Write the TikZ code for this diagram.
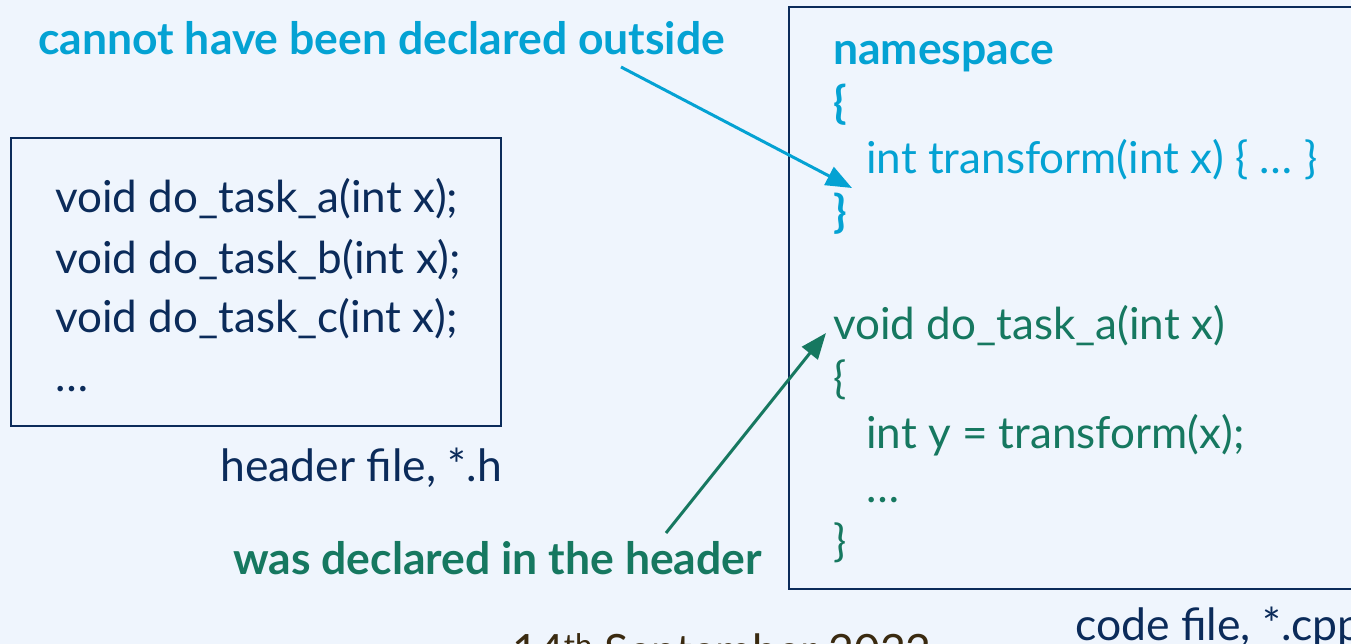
\documentclass[tikz,border=0pt]{standalone}
\usepackage{fontspec}
\setmainfont{Lato}
\usetikzlibrary{arrows.meta}
\definecolor{bgc}{HTML}{EFF5FD}
\definecolor{navy}{HTML}{0B2B5A}
\definecolor{cyanc}{HTML}{04A2D3}
\definecolor{greenc}{HTML}{167860}
\definecolor{brownc}{HTML}{3A2A10}
\tikzset{
  codeline/.style={anchor=base west, inner sep=0pt, font=\fontsize{44}{50}\selectfont},
  labeltext/.style={anchor=base west, inner sep=0pt, font=\fontsize{44.5}{50}\selectfont},
  boldlabel/.style={anchor=base west, inner sep=0pt, font=\fontsize{44.5}{50}\selectfont\bfseries},
  filebox/.style={draw=navy, line width=2.5pt},
  pointer/.style={line width=3pt, -{Triangle[length=26pt,width=20pt]}},
}
\begin{document}
\begin{tikzpicture}[x=1pt,y=-1pt]
\useasboundingbox (0,0) rectangle (1351,644);
\clip (0,0) rectangle (1351,644);
\fill[bgc] (0,0) rectangle (1351,644);
% boxes
\draw[filebox] (11,138) rectangle (501,426);
\draw[filebox] (789,7) rectangle (1400,589);
% header file text
\node[codeline, text=navy] (ha) at (55,213) {void do\_task\_a(int x);};
\node[codeline, text=navy] (hb) at (55,273) {void do\_task\_b(int x);};
\node[codeline, text=navy] (hc) at (55,332) {void do\_task\_c(int x);};
\node[codeline, text=navy] (hd) at (55,391) {…};
\node[labeltext, text=navy] (hl) at (220,481) {header file, *.h};
% code file text
\node[boldlabel, text=cyanc] (ns) at (833,65) {namespace};
\node[boldlabel, text=cyanc] (nso) at (833,119) {\{};
\node[codeline, text=cyanc] (tr) at (866,174) {int transform(int x) \{ … \}};
\node[boldlabel, text=cyanc] (nsc) at (833,228) {\}};
\node[codeline, text=greenc] (va) at (833,339) {void do\_task\_a(int x)};
\node[codeline, text=greenc] (vo) at (833,393) {\{};
\node[codeline, text=greenc] (vy) at (866,448) {int y = transform(x);};
\node[codeline, text=greenc] (vd) at (866,502) {…};
\node[codeline, text=greenc] (vc) at (833,556) {\}};
\node[labeltext, text=navy] (cl) at (1075,640) {code file, *.cpp};
% labels
\node[boldlabel, text=cyanc] (lout) at (38,55) {cannot have been declared outside};
\node[boldlabel, text=greenc] (lhead) at (233,574) {was declared in the header};
\node[labeltext, text=brownc] (date) at (512,666) {14\textsuperscript{th} September 2022};
% arrows
\coordinate (c1) at (621,67);
\coordinate (c2) at (666,533);
\draw[pointer, cyanc] (c1) -- ([xshift=-14pt,yshift=-14pt]tr.base west);
\draw[pointer, greenc] (c2) -- ([xshift=-7pt,yshift=6pt]va.base west);
\end{tikzpicture}
\end{document}
